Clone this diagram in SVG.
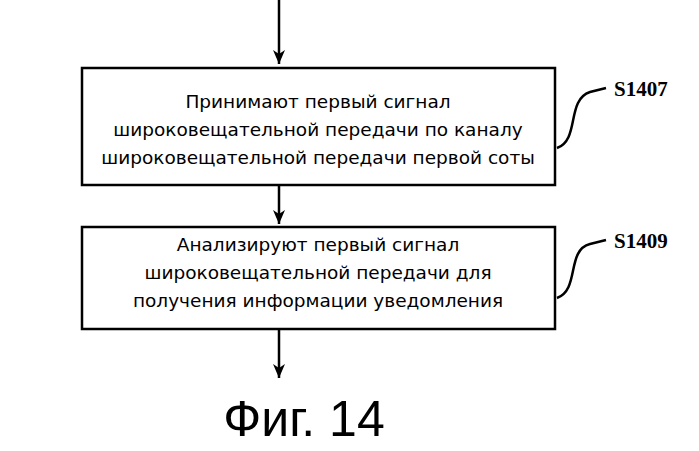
<svg xmlns="http://www.w3.org/2000/svg" width="699" height="451" viewBox="0 0 699 451">
<style>
.box{fill:#fff;stroke:#000;stroke-width:2.5}
.t{font-family:"DejaVu Sans",sans-serif;font-size:18.5px;text-anchor:middle}
.lbl{font-family:"Liberation Serif",serif;font-weight:bold;font-size:21px}
.ln{fill:none;stroke:#000;stroke-width:2.5}
</style>
<defs><marker id="ah" markerWidth="12" markerHeight="14" refX="6" refY="14" markerUnits="userSpaceOnUse"><path d="M0,0 L6,14 L12,0 L6,4 Z" fill="#000"/></marker></defs>
<g id="connectors">
<line class="ln" x1="279" y1="0" x2="279" y2="64" marker-end="url(#ah)"/>
<line class="ln" x1="279" y1="186" x2="279" y2="224" marker-end="url(#ah)"/>
<line class="ln" x1="279" y1="330" x2="279" y2="378" marker-end="url(#ah)"/>
<path class="ln" d="M557,148 C580,140 566,100 590,92 L606,88"/>
<path class="ln" d="M557,298 C580,290 566,250 590,244 L606,240"/>
</g>
<g id="s1407"><rect class="box" x="82" y="68" width="473" height="117"/>
<text class="t" x="318" y="108">Принимают первый сигнал</text>
<text class="t" x="318" y="136">широковещательной передачи по каналу</text>
<text class="t" x="318" y="164">широковещательной передачи первой соты</text>
<text class="lbl" x="614" y="96">S1407</text></g>
<g id="s1409"><rect class="box" x="82" y="227" width="473" height="102"/>
<text class="t" x="318" y="251">Анализируют первый сигнал</text>
<text class="t" x="318" y="279">широковещательной передачи для</text>
<text class="t" x="318" y="307">получения информации уведомления</text>
<text class="lbl" x="614" y="248">S1409</text></g>
<text x="304" y="436" font-family="Liberation Sans,sans-serif" font-size="50" text-anchor="middle">Фиг. 14</text>
</svg>
